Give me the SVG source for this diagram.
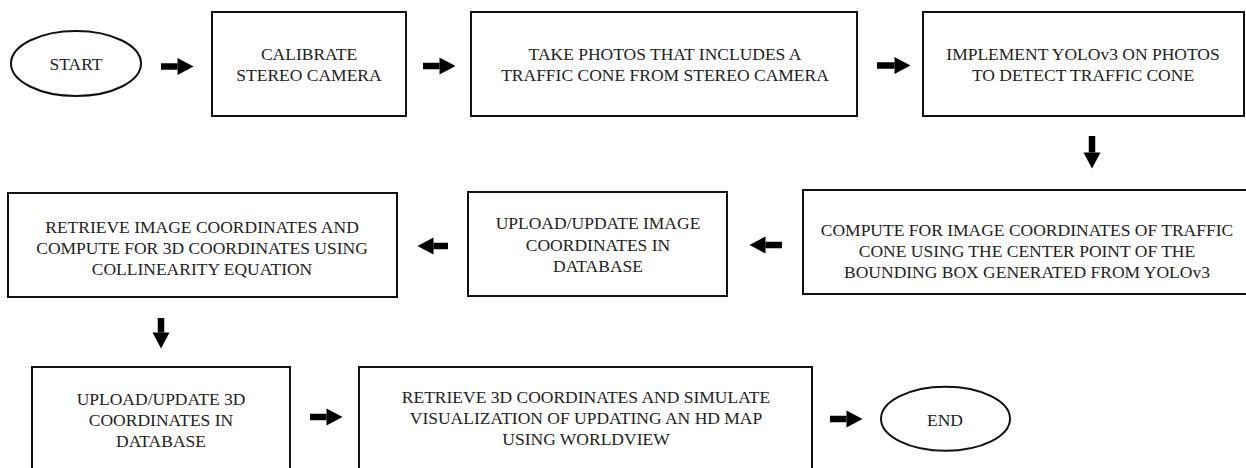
<svg xmlns="http://www.w3.org/2000/svg" width="1246" height="468" viewBox="0 0 1246 468">
<style>
.box{fill:#fff;stroke:#111;stroke-width:2}
.t{font-family:'Liberation Serif','DejaVu Serif',serif;font-size:17.5px;fill:#222;text-anchor:middle}
.c{stroke:#000;stroke-width:6.5;fill:none;marker-end:url(#ah)}
</style>
<defs>
<marker id="ah" markerUnits="userSpaceOnUse" markerWidth="16" markerHeight="17" refX="0" refY="8.5" orient="auto" overflow="visible">
<path d="M0,0 L16,8.5 L0,17 Z" fill="#000"/>
</marker>
</defs>
<rect width="1246" height="468" fill="#fff"/>
<g id="connectors">
<line class="c" x1="161" y1="66.5" x2="177.5" y2="66.5"/>
<line class="c" x1="423" y1="66" x2="439.5" y2="66"/>
<line class="c" x1="877" y1="65.5" x2="894.5" y2="65.5"/>
<line class="c" x1="1092" y1="136" x2="1092" y2="152.5"/>
<line class="c" x1="782" y1="245" x2="765.5" y2="245"/>
<line class="c" x1="448" y1="246" x2="433.5" y2="246"/>
<line class="c" x1="161" y1="318" x2="161" y2="332.5"/>
<line class="c" x1="310" y1="417" x2="326.5" y2="417"/>
<line class="c" x1="830" y1="419" x2="846.5" y2="419"/>
</g>
<g id="start">
<ellipse class="box" cx="76" cy="63.5" rx="65" ry="32.5"/>
<text class="t" x="76" y="70">START</text>
</g>
<g id="calibrate">
<rect class="box" x="212" y="12" width="194" height="104"/>
<text class="t" x="309" y="60">CALIBRATE</text>
<text class="t" x="309" y="81">STEREO CAMERA</text>
</g>
<g id="take-photos">
<rect class="box" x="471" y="12" width="386" height="104"/>
<text class="t" x="665" y="60">TAKE PHOTOS THAT INCLUDES A</text>
<text class="t" x="665" y="81">TRAFFIC CONE FROM STEREO CAMERA</text>
</g>
<g id="implement-yolo">
<rect class="box" x="923" y="12" width="321" height="104"/>
<text class="t" x="1083" y="60">IMPLEMENT YOLOv3 ON PHOTOS</text>
<text class="t" x="1083" y="81">TO DETECT TRAFFIC CONE</text>
</g>
<g id="compute-image-coords">
<rect class="box" x="803" y="190" width="460" height="104"/>
<text class="t" x="1027" y="236">COMPUTE FOR IMAGE COORDINATES OF TRAFFIC</text>
<text class="t" x="1027" y="257">CONE USING THE CENTER POINT OF THE</text>
<text class="t" x="1027" y="278">BOUNDING BOX GENERATED FROM YOLOv3</text>
</g>
<g id="upload-image-coords">
<rect class="box" x="468" y="192" width="259" height="104"/>
<text class="t" x="598" y="229">UPLOAD/UPDATE IMAGE</text>
<text class="t" x="598" y="251">COORDINATES IN</text>
<text class="t" x="598" y="272">DATABASE</text>
</g>
<g id="retrieve-image-coords">
<rect class="box" x="8" y="193" width="389" height="104"/>
<text class="t" x="202" y="233">RETRIEVE IMAGE COORDINATES AND</text>
<text class="t" x="202" y="254">COMPUTE FOR 3D COORDINATES USING</text>
<text class="t" x="202" y="275">COLLINEARITY EQUATION</text>
</g>
<g id="upload-3d-coords">
<rect class="box" x="32" y="367" width="258" height="120"/>
<text class="t" x="161" y="405">UPLOAD/UPDATE 3D</text>
<text class="t" x="161" y="426">COORDINATES IN</text>
<text class="t" x="161" y="447">DATABASE</text>
</g>
<g id="retrieve-3d-simulate">
<rect class="box" x="359" y="367" width="453" height="120"/>
<text class="t" x="586" y="403">RETRIEVE 3D COORDINATES AND SIMULATE</text>
<text class="t" x="586" y="424">VISUALIZATION OF UPDATING AN HD MAP</text>
<text class="t" x="586" y="445">USING WORLDVIEW</text>
</g>
<g id="end">
<ellipse class="box" cx="945.5" cy="418.7" rx="64.5" ry="32"/>
<text class="t" x="945" y="425.5">END</text>
</g>
</svg>
